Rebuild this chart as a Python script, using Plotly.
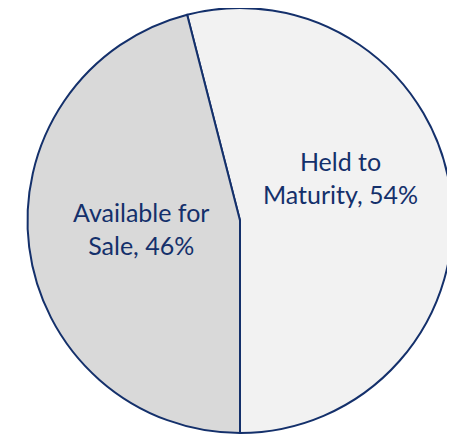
import plotly.graph_objects as go

labels = ["Held to Maturity", "Available for Sale"]
values = [54, 46]
label_lines = ["Held to<br>Maturity", "Available for<br>Sale"]
colors = ["#F2F2F2", "#D9D9D9"]

W, H = 455, 436
OFF = 8  # page body margin offset
cx, cy, r = 240 - OFF, 220.5 - OFF, 212.5

fig = go.Figure(go.Pie(
    labels=labels,
    values=values,
    sort=False,
    direction="clockwise",
    rotation=-14.4,
    marker=dict(colors=colors, line=dict(color="#14306B", width=2)),
    textinfo="none",
    hoverinfo="label+percent",
    showlegend=False,
    domain=dict(x=[(cx - r) / W, (cx + r) / W], y=[1 - (cy + r) / H, 1 - (cy - r) / H]),
))

text_pos = [(340, 177), (141, 228)]
for name, v, (tx, ty) in zip(label_lines, values, text_pos):
    fig.add_annotation(
        x=(tx - OFF) / W, y=1 - (ty - OFF) / H, xref="paper", yref="paper",
        xanchor="center", yanchor="middle",
        text=f"{name}, {v}%", showarrow=False,
        font=dict(family="Lato, Carlito, sans-serif", size=25, color="#14306B"),
        align="center",
    )

fig.update_layout(
    width=W, height=H,
    margin=dict(l=0, r=0, t=0, b=0),
    paper_bgcolor="white", plot_bgcolor="white",
)
fig.write_html("out.html")
